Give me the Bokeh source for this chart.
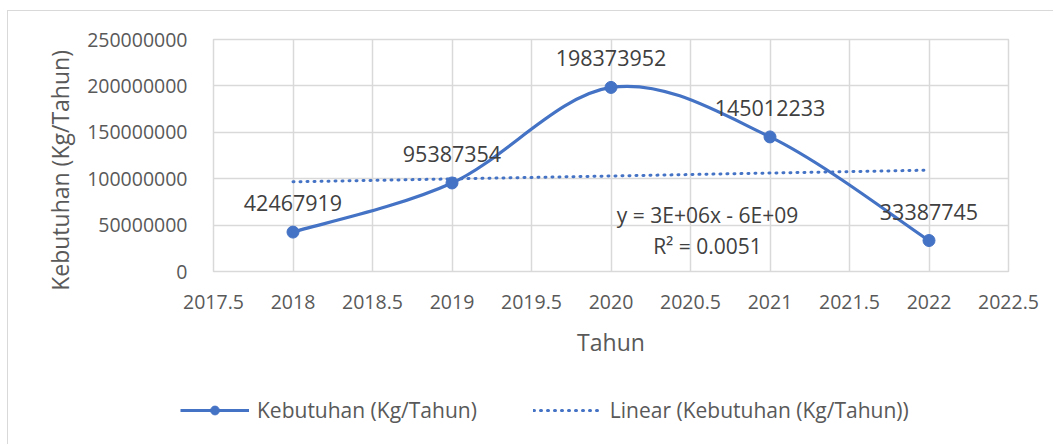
import numpy as np
from bokeh.plotting import figure
from bokeh.layouts import column
from bokeh.models import (ColumnDataSource, LabelSet, Legend, LegendItem, Label,
                          FixedTicker, Range1d)
from bokeh.core.properties import value
from bokeh.embed import file_html
from bokeh.resources import INLINE

# ---- data ----
years = [2018, 2019, 2020, 2021, 2022]
kebutuhan = [42467919, 95387354, 198373952, 145012233, 33387745]
x_ticks = [2017.5, 2018, 2018.5, 2019, 2019.5, 2020, 2020.5, 2021, 2021.5, 2022, 2022.5]
y_ticks = [0, 50000000, 100000000, 150000000, 200000000, 250000000]
series_name = "Kebutuhan (Kg/Tahun)"
trend_name = "Linear (Kebutuhan (Kg/Tahun))"
eq_text = "y = 3E+06x - 6E+09"
r2_text = "R² = 0.0051"

FONT = "Open Sans"
TXT = "#595959"
DARK = "#404040"
BLUE = "#4472C4"
GRID = "#D9D9D9"

p = figure(width=1045, height=360, output_backend="svg", toolbar_location=None,
           x_range=Range1d(2017.5, 2022.5), y_range=Range1d(0, 250000000),
           min_border_left=205, min_border_right=45, min_border_top=28,
           min_border_bottom=100)
p.outline_line_color = GRID
p.outline_line_width = 1.5
p.background_fill_color = "white"

# axes
p.xaxis.ticker = FixedTicker(ticks=x_ticks)
p.yaxis.ticker = FixedTicker(ticks=y_ticks)
p.xaxis.major_label_overrides = {t: (str(int(t)) if float(t).is_integer() else str(t)) for t in x_ticks}
p.yaxis.major_label_overrides = {t: str(t) for t in y_ticks}
for ax in (p.xaxis[0], p.yaxis[0]):
    ax.axis_line_color = None
    ax.major_tick_line_color = None
    ax.minor_tick_line_color = None
    ax.major_label_text_font = FONT
    ax.major_label_text_font_size = "19.5px"
    ax.major_label_text_color = TXT
    ax.axis_label_text_font = FONT
    ax.axis_label_text_font_size = "23px"
    ax.axis_label_text_color = TXT
    ax.axis_label_text_font_style = "normal"
p.xaxis.axis_label = "Tahun"
# trailing no-break spaces nudge the rotated title down, as in the reference
p.yaxis.axis_label = series_name + "\u00a0" * 5
p.xaxis.major_label_standoff = 17
p.yaxis.major_label_standoff = 20
p.xaxis.axis_label_standoff = 14
p.yaxis.axis_label_standoff = 8

p.xgrid.grid_line_color = GRID
p.ygrid.grid_line_color = GRID
p.xgrid.grid_line_width = 1.5
p.ygrid.grid_line_width = 1.5

# smoothed line (Catmull-Rom style bezier segments through data points)
xs = np.array(years, dtype=float)
ys = np.array(kebutuhan, dtype=float)
n = len(xs)
x0, y0, x1, y1, cx0, cy0, cx1, cy1 = ([] for _ in range(8))
for i in range(n - 1):
    pm = max(i - 1, 0)
    pp = min(i + 2, n - 1)
    x0.append(xs[i]); y0.append(ys[i]); x1.append(xs[i + 1]); y1.append(ys[i + 1])
    cx0.append(xs[i] + (xs[i + 1] - xs[pm]) / 6); cy0.append(ys[i] + (ys[i + 1] - ys[pm]) / 6)
    cx1.append(xs[i + 1] - (xs[pp] - xs[i]) / 6); cy1.append(ys[i + 1] - (ys[pp] - ys[i]) / 6)
seg = ColumnDataSource(dict(x0=x0, y0=y0, x1=x1, y1=y1, cx0=cx0, cy0=cy0, cx1=cx1, cy1=cy1))
p.bezier(x0="x0", y0="y0", x1="x1", y1="y1", cx0="cx0", cy0="cy0", cx1="cx1", cy1="cy1",
         source=seg, line_color=BLUE, line_width=3.2)

src = ColumnDataSource(dict(x=years, y=kebutuhan, lbl=[str(v) for v in kebutuhan]))
p.scatter("x", "y", source=src, size=12, fill_color=BLUE, line_color=BLUE)

# linear trendline from the data
slope, intercept = np.polyfit(xs, ys, 1)
p.line([xs[0], xs[-1]], [slope * xs[0] + intercept, slope * xs[-1] + intercept],
       line_color=BLUE, line_width=3, line_dash="1 6", line_cap="round")

# data labels
labels = LabelSet(x="x", y="y", text="lbl", source=src, y_offset=21,
                  text_align="center", text_baseline="bottom",
                  text_font=value(FONT), text_font_size="21.5px", text_color=DARK)
p.add_layout(labels)

# equation labels
p.add_layout(Label(x=2020.607, y=60500000, text=eq_text, text_align="center",
                   text_baseline="middle",
                   text_font=FONT, text_font_size="21px", text_color=DARK))
p.add_layout(Label(x=2020.607, y=27000000, text=r2_text, text_align="center",
                   text_baseline="middle",
                   text_font=FONT, text_font_size="21px", text_color=DARK))

# ---- legend strip (separate figure under the chart) ----
q = figure(width=1045, height=73, output_backend="svg", toolbar_location=None,
           x_range=Range1d(0, 1), y_range=Range1d(0, 1), min_border=0)
q.frame_align = False
q.axis.visible = False
q.grid.visible = False
q.outline_line_color = None
q_line = q.line([np.nan], [np.nan], line_color=BLUE, line_width=3.2)
q_pt = q.scatter([np.nan], [np.nan], size=13, fill_color=BLUE, line_color=BLUE)
q_tr = q.line([np.nan], [np.nan], line_color=BLUE, line_width=3, line_dash="1 6", line_cap="round")
lg = Legend(items=[LegendItem(label=series_name, renderers=[q_line, q_pt]),
                   LegendItem(label=trend_name, renderers=[q_tr])],
            location=(172, 20), orientation="horizontal", spacing=56,
            glyph_width=69, glyph_height=22, padding=0, margin=0,
            border_line_color=None, background_fill_alpha=0, label_standoff=8,
            label_text_font=FONT, label_text_font_size="21px", label_text_color=TXT)
q.add_layout(lg)

page = column(p, q, spacing=0,
              styles={"border-top": "1px solid #D9D9D9", "border-left": "1px solid #D9D9D9",
                      "margin-top": "10px", "margin-left": "7px"})

open("out.html", "w").write(file_html(page, INLINE))
